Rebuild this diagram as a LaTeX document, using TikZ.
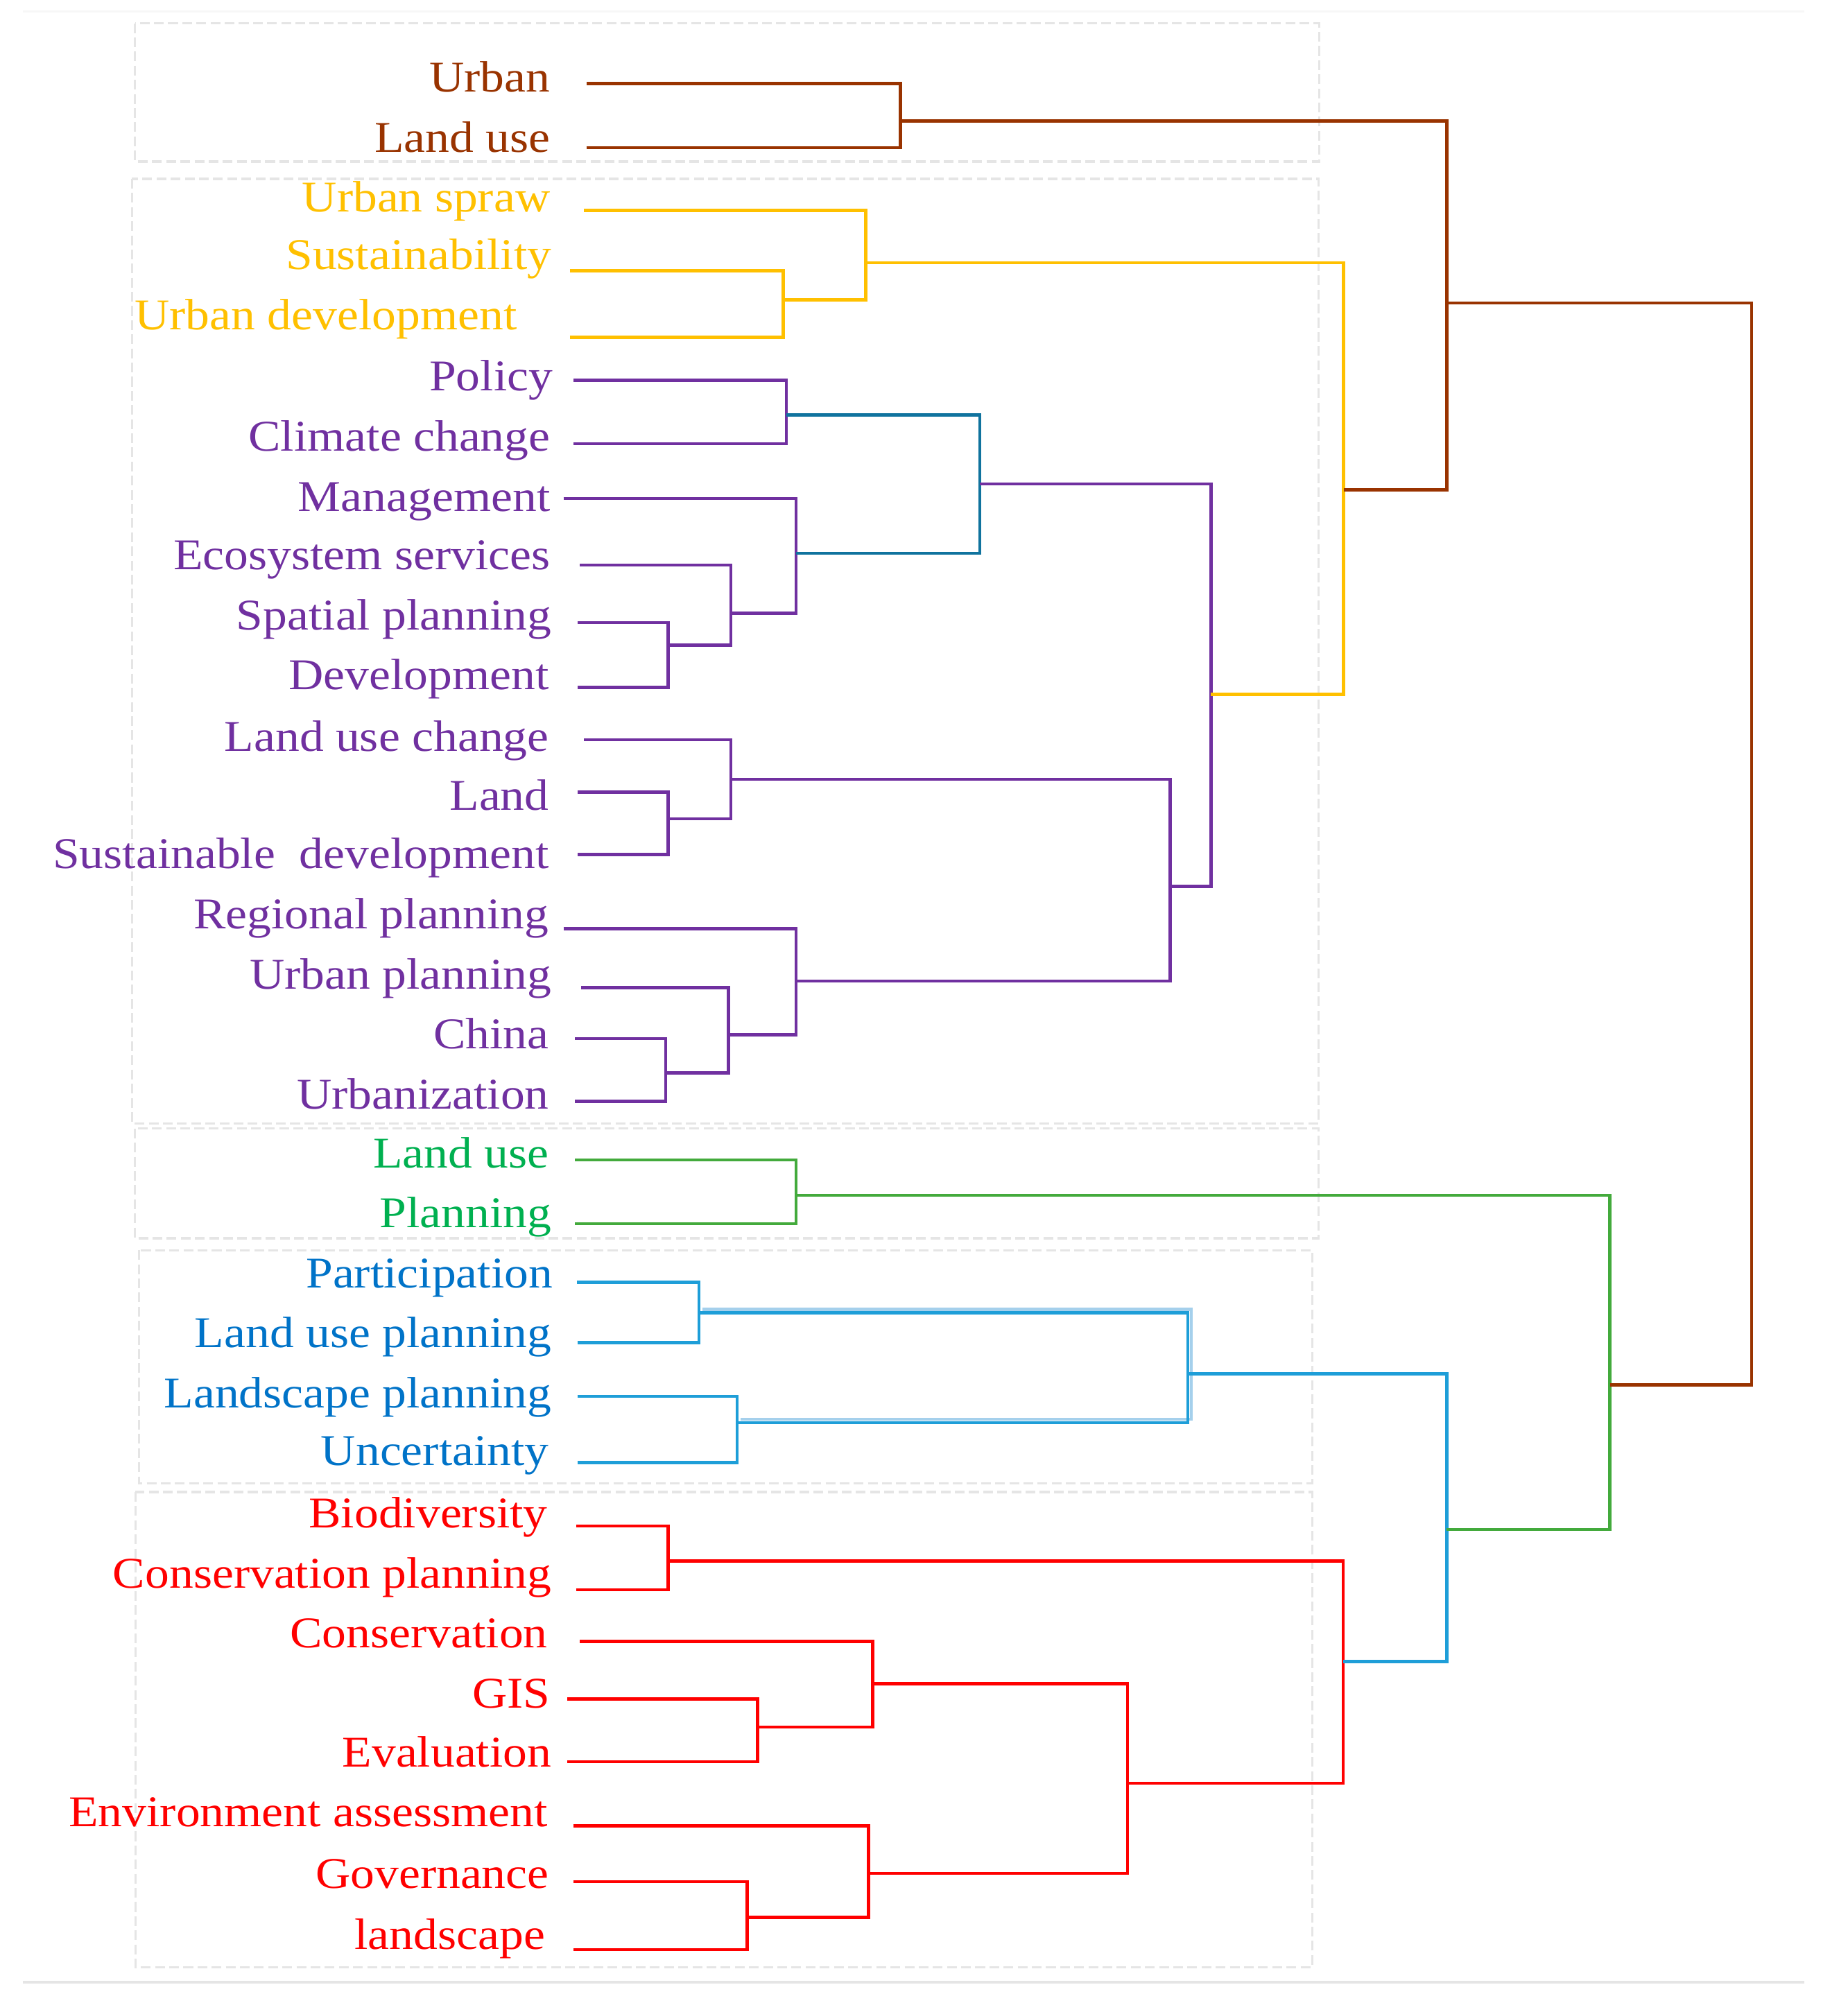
\documentclass[tikz,border=0pt]{standalone}
\usepackage{fontspec}
\setmainfont[FakeStretch=1.1]{Liberation Serif}

\definecolor{cbrown}{RGB}{153,51,0}
\definecolor{cyellow}{RGB}{255,192,0}
\definecolor{cpurple}{RGB}{112,48,160}
\definecolor{cteal}{RGB}{16,115,158}
\definecolor{cgreen}{RGB}{67,170,60}
\definecolor{tgreen}{RGB}{0,176,80}
\definecolor{cblue}{RGB}{30,158,216}
\definecolor{tblue}{RGB}{0,115,200}
\definecolor{cglow}{RGB}{165,208,236}
\definecolor{cred}{RGB}{255,0,0}

\begin{document}
\begin{tikzpicture}[x=0.018423cm,y=-0.018423cm,
    lbl/.style={anchor=base east,inner sep=0pt,font=\fontsize{18pt}{21pt}\selectfont},
    lnk/.style={line width=1.3pt},
    grp/.style={draw=black!10,line width=0.9pt,dash pattern=on 4pt off 1.8pt}]
\useasboundingbox (0,0) rectangle (1446,1568);

\draw[black!3,line width=1pt] (18,9) -- (1412,9);
\draw[black!10,line width=1.2pt] (18,1551.6) -- (1412,1551.6);

\draw[grp] (105.6,18.2) rectangle (1032.4,126.5);
\draw[grp] (103.2,140) rectangle (1032,879.4);
\draw[grp] (105.6,883.5) rectangle (1032,969.3);
\draw[grp] (109,978.7) rectangle (1027,1161);
\draw[grp] (106,1168) rectangle (1027,1540);

\path
    (431,72) node[lbl,cbrown] (urban) {Urban}
    (431,119) node[lbl,cbrown] (landuse) {Land use}
    (431,166) node[lbl,cyellow] (sprawl) {Urban spraw}
    (432,211) node[lbl,cyellow] (sustain) {Sustainability}
    (405,258) node[lbl,cyellow] (urbdev) {Urban development}
    (433,306) node[lbl,cpurple] (policy) {Policy}
    (431,353) node[lbl,cpurple] (climate) {Climate change}
    (431,400) node[lbl,cpurple] (manage) {Management}
    (431,446) node[lbl,cpurple] (ecosys) {Ecosystem services}
    (432,493) node[lbl,cpurple] (spatial) {Spatial planning}
    (430,540) node[lbl,cpurple] (develop) {Development}
    (430,588) node[lbl,cpurple] (luchange) {Land use change}
    (430,634) node[lbl,cpurple] (land) {Land}
    (430,680) node[lbl,cpurple] (susdev) {Sustainable\ \ development}
    (430,727) node[lbl,cpurple] (regional) {Regional planning}
    (432,774) node[lbl,cpurple] (urbplan) {Urban planning}
    (430,821) node[lbl,cpurple] (china) {China}
    (430,868) node[lbl,cpurple] (urbanize) {Urbanization}
    (430,914) node[lbl,tgreen] (landuse2) {Land use}
    (432,961) node[lbl,tgreen] (planning) {Planning}
    (433,1008) node[lbl,tblue] (particip) {Participation}
    (432,1055) node[lbl,tblue] (luplan) {Land use planning}
    (432,1102) node[lbl,tblue] (lsplan) {Landscape planning}
    (430,1147) node[lbl,tblue] (uncert) {Uncertainty}
    (429,1196) node[lbl,cred] (biodiv) {Biodiversity}
    (432,1243) node[lbl,cred] (consplan) {Conservation planning}
    (429,1290) node[lbl,cred] (conserv) {Conservation}
    (431,1337) node[lbl,cred] (gis) {GIS}
    (432,1383) node[lbl,cred] (evalu) {Evaluation}
    (429,1430) node[lbl,cred] (envass) {Environment assessment}
    (430,1478) node[lbl,cred] (govern) {Governance}
    (427,1526) node[lbl,cred] (lscape) {landscape};

% leaf ends
\path
    (459,65.4) coordinate (urban-e)
    (459,115.6) coordinate (landuse-e)
    (457,164.8) coordinate (sprawl-e)
    (446,212) coordinate (sustain-e)
    (446,264.1) coordinate (urbdev-e)
    (449,297.6) coordinate (policy-e)
    (449,347.3) coordinate (climate-e)
    (441,390.3) coordinate (manage-e)
    (454,442.4) coordinate (ecosys-e)
    (452,487.3) coordinate (spatial-e)
    (452,538) coordinate (develop-e)
    (457,579) coordinate (luchange-e)
    (452,620) coordinate (land-e)
    (452,669) coordinate (susdev-e)
    (441,727) coordinate (regional-e)
    (455,773) coordinate (urbplan-e)
    (450,813) coordinate (china-e)
    (450,862) coordinate (urbanize-e)
    (450,908) coordinate (landuse2-e)
    (450,958) coordinate (planning-e)
    (451.5,1003.7) coordinate (particip-e)
    (452,1051) coordinate (luplan-e)
    (452,1093) coordinate (lsplan-e)
    (452,1145) coordinate (uncert-e)
    (451,1194.5) coordinate (biodiv-e)
    (451,1244.5) coordinate (consplan-e)
    (454,1285) coordinate (conserv-e)
    (444,1330) coordinate (gis-e)
    (444,1379) coordinate (evalu-e)
    (449,1429.3) coordinate (envass-e)
    (449,1473) coordinate (govern-e)
    (449,1526.3) coordinate (lscape-e);

% merge points
\path
    (704.7,94.8) coordinate (m-urban)
    (613,234.6) coordinate (m-sustain)
    (677.7,205.6) coordinate (m-sprawl)
    (615.5,324.7) coordinate (m-policy)
    (523,505) coordinate (m-spatial)
    (572,480) coordinate (m-ecosys)
    (623,433) coordinate (m-manage)
    (767,378.9) coordinate (m-teal)
    (523,641) coordinate (m-land)
    (572,610) coordinate (m-luchange)
    (521,840) coordinate (m-china)
    (570,810) coordinate (m-urbplan)
    (623,768) coordinate (m-regional)
    (916,694) coordinate (m-lower)
    (947.8,543.4) coordinate (m-purple)
    (1051.7,383.4) coordinate (m-yellow)
    (1132.3,237.2) coordinate (m-top)
    (623,935.6) coordinate (m-green)
    (547,1027.7) coordinate (m-particip)
    (577,1113.7) coordinate (m-lsplan)
    (929.7,1075.5) coordinate (m-blue)
    (523,1222) coordinate (m-biodiv)
    (593,1352) coordinate (m-gis)
    (683,1318) coordinate (m-conserv)
    (584.7,1500.8) coordinate (m-govern)
    (679.7,1466.5) coordinate (m-envass)
    (882.6,1396) coordinate (m-redlow)
    (1051.4,1300.6) coordinate (m-red)
    (1132.3,1197.3) coordinate (m-bluered)
    (1260,1084) coordinate (m-bottom)
    (1371,660) coordinate (m-root);

\draw[lnk,cbrown] (urban-e) -| (m-urban) (landuse-e) -| (m-urban);
\draw[lnk,cyellow] (sustain-e) -| (m-sustain) (urbdev-e) -| (m-sustain);
\draw[lnk,cyellow] (sprawl-e) -| (m-sprawl) (m-sustain) -| (m-sprawl);
\draw[lnk,cpurple] (policy-e) -| (m-policy) (climate-e) -| (m-policy);
\draw[lnk,cpurple] (spatial-e) -| (m-spatial) (develop-e) -| (m-spatial);
\draw[lnk,cpurple] (ecosys-e) -| (m-ecosys) (m-spatial) -| (m-ecosys);
\draw[lnk,cpurple] (manage-e) -| (m-manage) (m-ecosys) -| (m-manage);
\draw[lnk,cteal] (m-policy) -| (m-teal) (m-manage) -| (m-teal);
\draw[lnk,cpurple] (land-e) -| (m-land) (susdev-e) -| (m-land);
\draw[lnk,cpurple] (luchange-e) -| (m-luchange) (m-land) -| (m-luchange);
\draw[lnk,cpurple] (china-e) -| (m-china) (urbanize-e) -| (m-china);
\draw[lnk,cpurple] (urbplan-e) -| (m-urbplan) (m-china) -| (m-urbplan);
\draw[lnk,cpurple] (regional-e) -| (m-regional) (m-urbplan) -| (m-regional);
\draw[lnk,cpurple] (m-luchange) -| (m-lower) (m-regional) -| (m-lower);
\draw[lnk,cpurple] (m-teal) -| (m-purple) (m-lower) -| (m-purple);
\draw[lnk,cyellow] (m-sprawl) -| (m-yellow) (m-purple) -| (m-yellow);
\draw[lnk,cbrown] (m-urban) -| (m-top) (m-yellow) -| (m-top);

\draw[lnk,cgreen] (landuse2-e) -| (m-green) (planning-e) -| (m-green);
\draw[lnk,cblue] (particip-e) -| (m-particip) (luplan-e) -| (m-particip);
\draw[lnk,cblue] (lsplan-e) -| (m-lsplan) (uncert-e) -| (m-lsplan);
\draw[lnk,cglow,transform canvas={xshift=1.4pt,yshift=1.4pt}] (m-particip) -| (m-blue) (m-lsplan) -| (m-blue);
\draw[lnk,cblue] (m-particip) -| (m-blue) (m-lsplan) -| (m-blue);
\draw[lnk,cred] (biodiv-e) -| (m-biodiv) (consplan-e) -| (m-biodiv);
\draw[lnk,cred] (gis-e) -| (m-gis) (evalu-e) -| (m-gis);
\draw[lnk,cred] (conserv-e) -| (m-conserv) (m-gis) -| (m-conserv);
\draw[lnk,cred] (govern-e) -| (m-govern) (lscape-e) -| (m-govern);
\draw[lnk,cred] (envass-e) -| (m-envass) (m-govern) -| (m-envass);
\draw[lnk,cred] (m-conserv) -| (m-redlow) (m-envass) -| (m-redlow);
\draw[lnk,cred] (m-biodiv) -| (m-red) (m-redlow) -| (m-red);
\draw[lnk,cblue] (m-blue) -| (m-bluered) (m-red) -| (m-bluered);
\draw[lnk,cgreen] (m-green) -| (m-bottom) (m-bluered) -| (m-bottom);
\draw[lnk,cbrown] (m-top) -| (m-root) (m-bottom) -| (m-root);
\end{tikzpicture}
\end{document}
